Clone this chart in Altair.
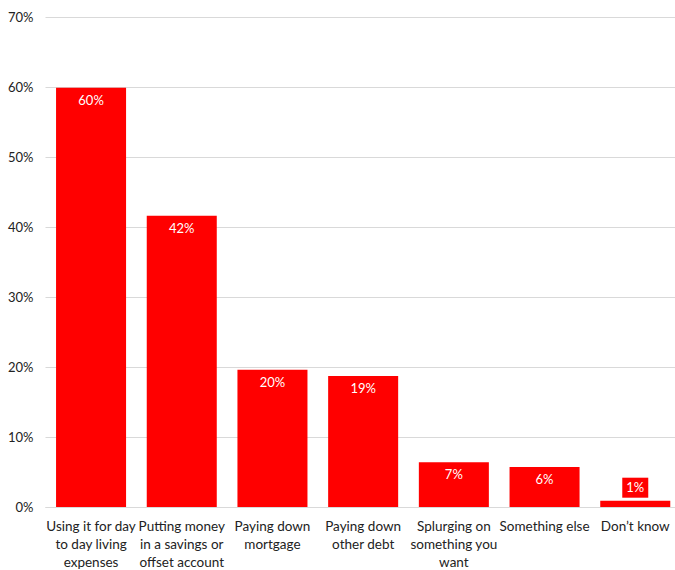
import altair as alt
import pandas as pd

categories = [
    "Using it for day|to day living|expenses",
    "Putting money|in a savings or|offset account",
    "Paying down|mortgage",
    "Paying down|other debt",
    "Splurging on|something you|want",
    "Something else",
    "Don\u2019t know",
]
values = [59.9, 41.6, 19.6, 18.7, 6.4, 5.7, 0.9]
labels = ["60%", "42%", "20%", "19%", "7%", "6%", "1%"]

df = pd.DataFrame({"cat": categories, "val": values, "lab": labels})

FONT = "Lato"
RED = "#ff0000"

x = alt.X(
    "cat:N", sort=categories, title=None,
    scale=alt.Scale(paddingInner=0.228, paddingOuter=0.087, align=0.7),
    axis=alt.Axis(labelExpr="split(datum.label, '|')", labelAngle=0, labelFont=FONT,
                  labelFontSize=13.5, labelColor="#222", labelPadding=12, labelLineHeight=18,
                  ticks=False, domainColor="#d9d9d9", labelLimit=200),
)
y = alt.Y(
    "val:Q", title=None,
    scale=alt.Scale(domain=[0, 70], nice=False),
    axis=alt.Axis(values=[0, 10, 20, 30, 40, 50, 60, 70], labelExpr="datum.value + '%'",
                  labelFont=FONT, labelFontSize=13, labelColor="#222", labelPadding=12,
                  ticks=False, domain=False, gridColor="#d9d9d9"),
)

bars = alt.Chart(df).mark_bar(color=RED).encode(x=x, y=y)

big = alt.Chart(df).transform_filter("datum.val >= 3").mark_text(
    color="white", font=FONT, fontSize=13, baseline="middle", dy=13
).encode(x=alt.X("cat:N", sort=categories), y="val:Q", text="lab:N")

small_bg = alt.Chart(df).transform_filter("datum.val < 3").mark_point(
    shape="M-1.3,-1L1.3,-1L1.3,1L-1.3,1Z", filled=True, color=RED, opacity=1,
    size=400, yOffset=-13, strokeWidth=0
).encode(x=alt.X("cat:N", sort=categories), y="val:Q")

small = alt.Chart(df).transform_filter("datum.val < 3").mark_text(
    color="white", font=FONT, fontSize=13, baseline="middle", dy=-13
).encode(x=alt.X("cat:N", sort=categories), y="val:Q", text="lab:N")

chart = alt.layer(bars, big, small_bg, small).properties(
    width=630, height=490,
    autosize=alt.AutoSizeParams(type="none"),
    padding={"left": 45, "top": 17, "right": 0, "bottom": 63},
).configure_view(stroke=None)

chart.save("out.html", embed_options={"renderer": "svg", "actions": False})
